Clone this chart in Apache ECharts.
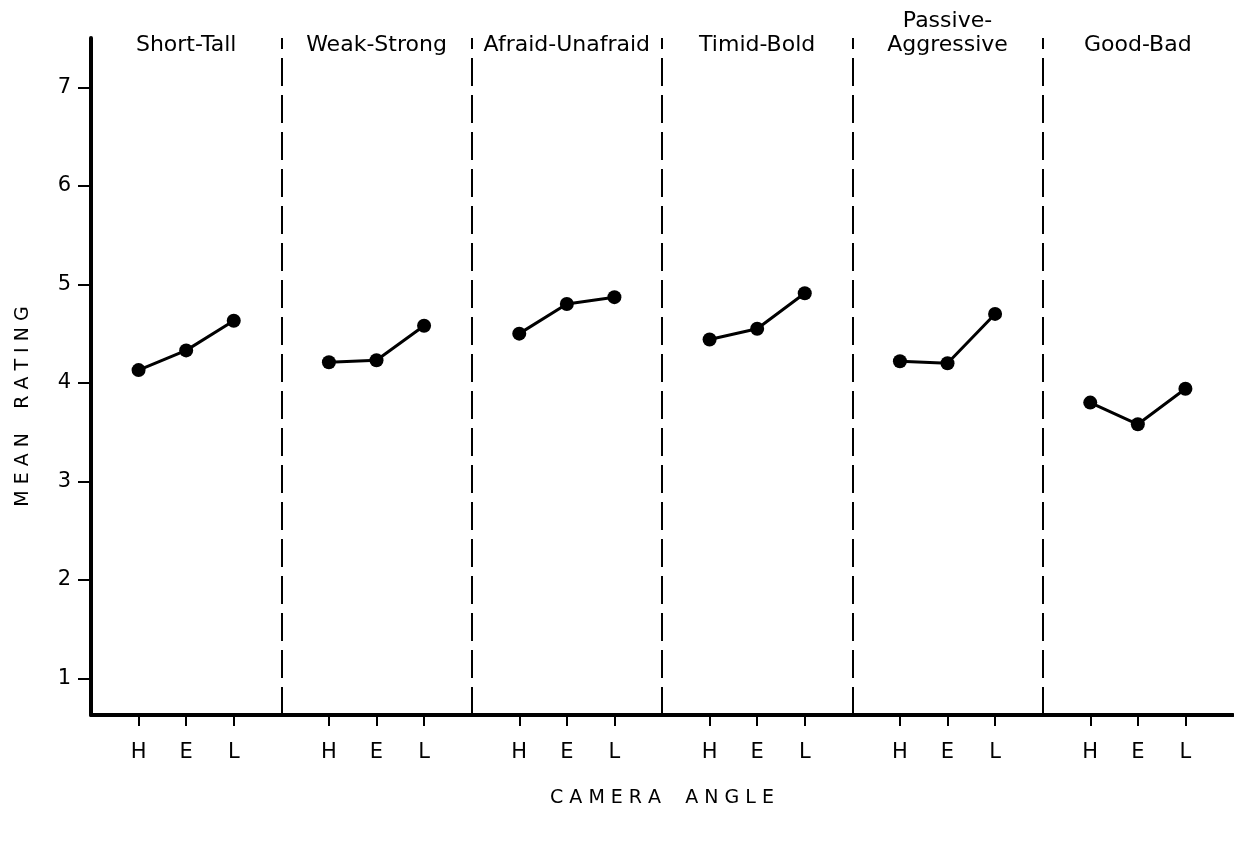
<!DOCTYPE html>
<html>
<head>
<meta charset="utf-8">
<script src="https://cdn.jsdelivr.net/npm/echarts@6/dist/echarts.min.js"></script>
<style>
html, body { margin: 0; padding: 0; background: #fff; }
#chart { width: 1234px; height: 844px; }
</style>
</head>
<body>
<div id="chart"></div>
<script>
// scales (panels) and camera angles
var scales = ['Short-Tall', 'Weak-Strong', 'Afraid-Unafraid', 'Timid-Bold', 'Passive-\nAggressive', 'Good-Bad'];
var angles = ['H', 'E', 'L'];

// mean ratings per scale, in H / E / L order
var shortTall = [4.13, 4.33, 4.63];
var weakStrong = [4.21, 4.23, 4.58];
var afraidUnafraid = [4.50, 4.80, 4.87];
var timidBold = [4.44, 4.55, 4.91];
var passiveAggressive = [4.22, 4.20, 4.70];
var goodBad = [3.80, 3.58, 3.94];
var ratings = [shortTall, weakStrong, afraidUnafraid, timidBold, passiveAggressive, goodBad];

var ratingTicks = [1, 2, 3, 4, 5, 6, 7];

// each panel = 4 slots: a blank boundary then H, E, L; one closing blank at the end
var slots = [];
var values = [];
var bounds = [];
for (var i = 0; i < scales.length; i++) {
	if (i > 0) bounds.push({ xAxis: slots.length });
	slots.push('');
	values.push(null);
	for (var j = 0; j < angles.length; j++) {
		slots.push(angles[j]);
		values.push(ratings[i][j]);
	}
}
slots.push('');
values.push(null);

var font = 'DejaVu Sans';
var chart = echarts.init(document.getElementById('chart'));
var option = {
	animation: false,
	backgroundColor: '#fff',
	textStyle: { fontFamily: font, color: '#000' },
	grid: {
		left: 91,
		right: 1,
		top: 38,
		bottom: 129,
		outerBoundsMode: 'none'
	},
	xAxis: [{
		type: 'category',
		data: slots,
		boundaryGap: false,
		position: 'bottom',
		axisLine: { onZero: false, lineStyle: { color: '#000', width: 4 } },
		axisTick: {
			interval: function (idx, val) { return val !== ''; },
			length: 11,
			lineStyle: { color: '#000', width: 2 }
		},
		axisLabel: {
			interval: function (idx, val) { return val !== ''; },
			margin: 27,
			fontSize: 21,
			fontFamily: font,
			color: '#000'
		},
		splitLine: { show: false },
		name: 'C A M E R A    A N G L E',
		nameLocation: 'middle',
		nameGap: 74,
		nameTextStyle: { fontSize: 19, fontFamily: font, color: '#000' }
	}, {
		// panel titles
		type: 'category',
		data: scales,
		boundaryGap: true,
		position: 'top',
		offset: -25,
		axisLine: { show: false },
		axisTick: { show: false },
		axisLabel: {
			interval: 0,
			margin: 6,
			fontSize: 22,
			lineHeight: 24,
			fontFamily: font,
			color: '#000'
		},
		splitLine: { show: false }
	}],
	yAxis: {
		type: 'value',
		min: 0.63,
		max: 7.5,
		axisLine: { show: true, lineStyle: { color: '#000', width: 4 } },
		axisTick: {
			show: true,
			customValues: ratingTicks,
			length: 13,
			lineStyle: { color: '#000', width: 2 }
		},
		axisLabel: {
			customValues: ratingTicks,
			margin: 20,
			fontSize: 21,
			fontFamily: font,
			color: '#000'
		},
		splitLine: { show: false },
		name: 'M E A N    R A T I N G',
		nameLocation: 'middle',
		nameRotate: 90,
		nameGap: 58,
		nameTextStyle: { fontSize: 19, fontFamily: font, color: '#000', padding: [0, 60, 0, 0] }
	},
	series: [{
		type: 'line',
		data: values,
		connectNulls: false,
		symbol: 'circle',
		symbolSize: 14,
		showAllSymbol: true,
		itemStyle: { color: '#000' },
		lineStyle: { color: '#000', width: 3 },
		markLine: {
			silent: true,
			symbol: 'none',
			label: { show: false },
			lineStyle: { color: '#000', width: 2, type: [28, 9] },
			data: bounds
		}
	}]
};
chart.setOption(option);
</script>
</body>
</html>
